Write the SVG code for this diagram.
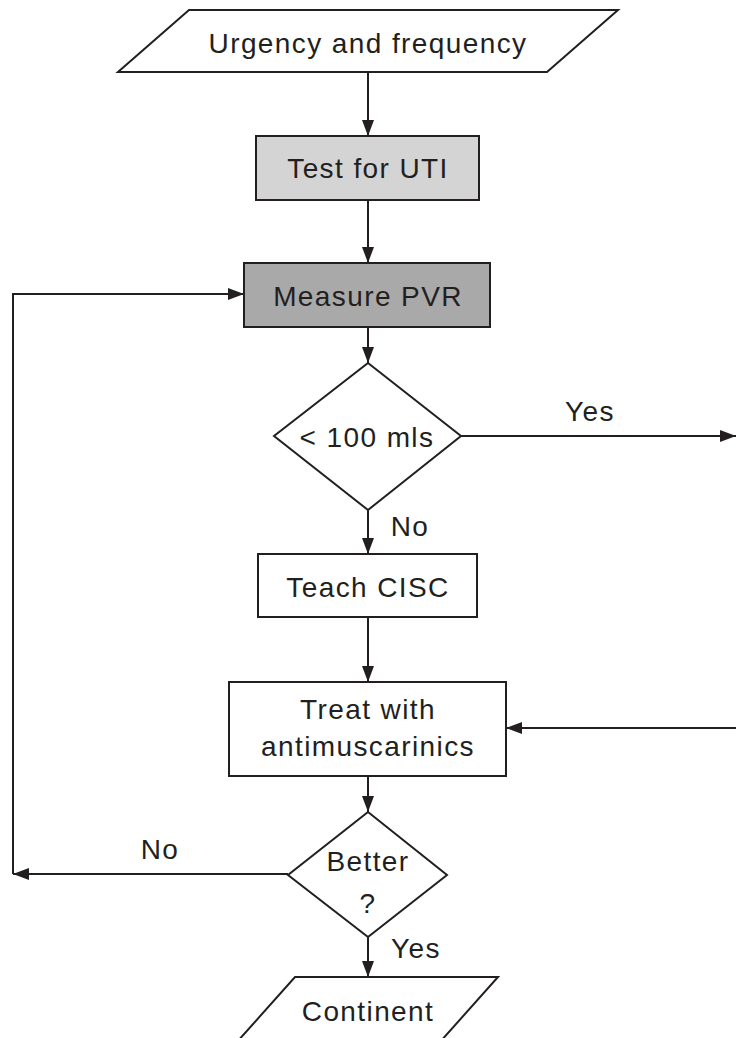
<svg xmlns="http://www.w3.org/2000/svg" width="736" height="1038" viewBox="0 0 736 1038">
<defs>
<marker id="arr" viewBox="0 0 16 12" refX="16" refY="6" markerWidth="16" markerHeight="12" markerUnits="userSpaceOnUse" orient="auto">
<path d="M0,0 L16,6 L0,12 Z" fill="#231f20"/>
</marker>
<style>
.s{stroke:#231f20;stroke-width:2;fill:#fff}
.t{font-family:"Liberation Sans",Arial,sans-serif;font-size:28px;letter-spacing:1.4px;fill:#231f20;text-anchor:middle}
.c{stroke:#231f20;stroke-width:2;fill:none;marker-end:url(#arr)}
</style>
</defs>
<rect width="736" height="1038" fill="#fff"/>
<g id="connectors">
<line class="c" x1="368" y1="72" x2="368" y2="136"/>
<line class="c" x1="368" y1="200" x2="368" y2="263"/>
<line class="c" x1="368" y1="327" x2="368" y2="363"/>
<line class="c" x1="461" y1="436" x2="736" y2="436"/>
<line class="c" x1="368" y1="510" x2="368" y2="554"/>
<line class="c" x1="368" y1="617" x2="368" y2="682"/>
<line class="c" x1="736" y1="728" x2="506" y2="728"/>
<line class="c" x1="368" y1="776" x2="368" y2="812"/>
<line class="c" x1="288" y1="874" x2="13" y2="874"/>
<polyline class="c" points="13,874 13,294 244,294"/>
<line class="c" x1="368" y1="937" x2="368" y2="977"/>
<text class="t" x="590" y="421">Yes</text>
<text class="t" x="410" y="536">No</text>
<text class="t" x="160" y="859">No</text>
<text class="t" x="416" y="958">Yes</text>
</g>
<g id="urgency">
<polygon class="s" points="189,10 618,10 547,72 118,72"/>
<text class="t" x="368" y="53">Urgency and frequency</text>
</g>
<g id="uti">
<rect class="s" x="256" y="136" width="223" height="64" style="fill:#d4d4d4"/>
<text class="t" x="368" y="178">Test for UTI</text>
</g>
<g id="pvr">
<rect class="s" x="244" y="263" width="246" height="64" style="fill:#a9a9a9"/>
<text class="t" x="368" y="306">Measure PVR</text>
</g>
<g id="dec1">
<polygon class="s" points="368,363 461,436 368,510 274,436"/>
<text class="t" x="367" y="447">&lt; 100 mls</text>
</g>
<g id="cisc">
<rect class="s" x="258" y="554" width="219" height="63"/>
<text class="t" x="368" y="597">Teach CISC</text>
</g>
<g id="treat">
<rect class="s" x="229" y="682" width="277" height="94"/>
<text class="t" x="368" y="719">Treat with</text>
<text class="t" x="368" y="756">antimuscarinics</text>
</g>
<g id="dec2">
<polygon class="s" points="368,812 447,875 368,937 288,875"/>
<text class="t" x="368" y="871">Better</text>
<text class="t" x="368" y="913">?</text>
</g>
<g id="continent">
<polygon class="s" points="295,977 498,977 440,1042 237,1042"/>
<text class="t" x="368" y="1021">Continent</text>
</g>
</svg>
